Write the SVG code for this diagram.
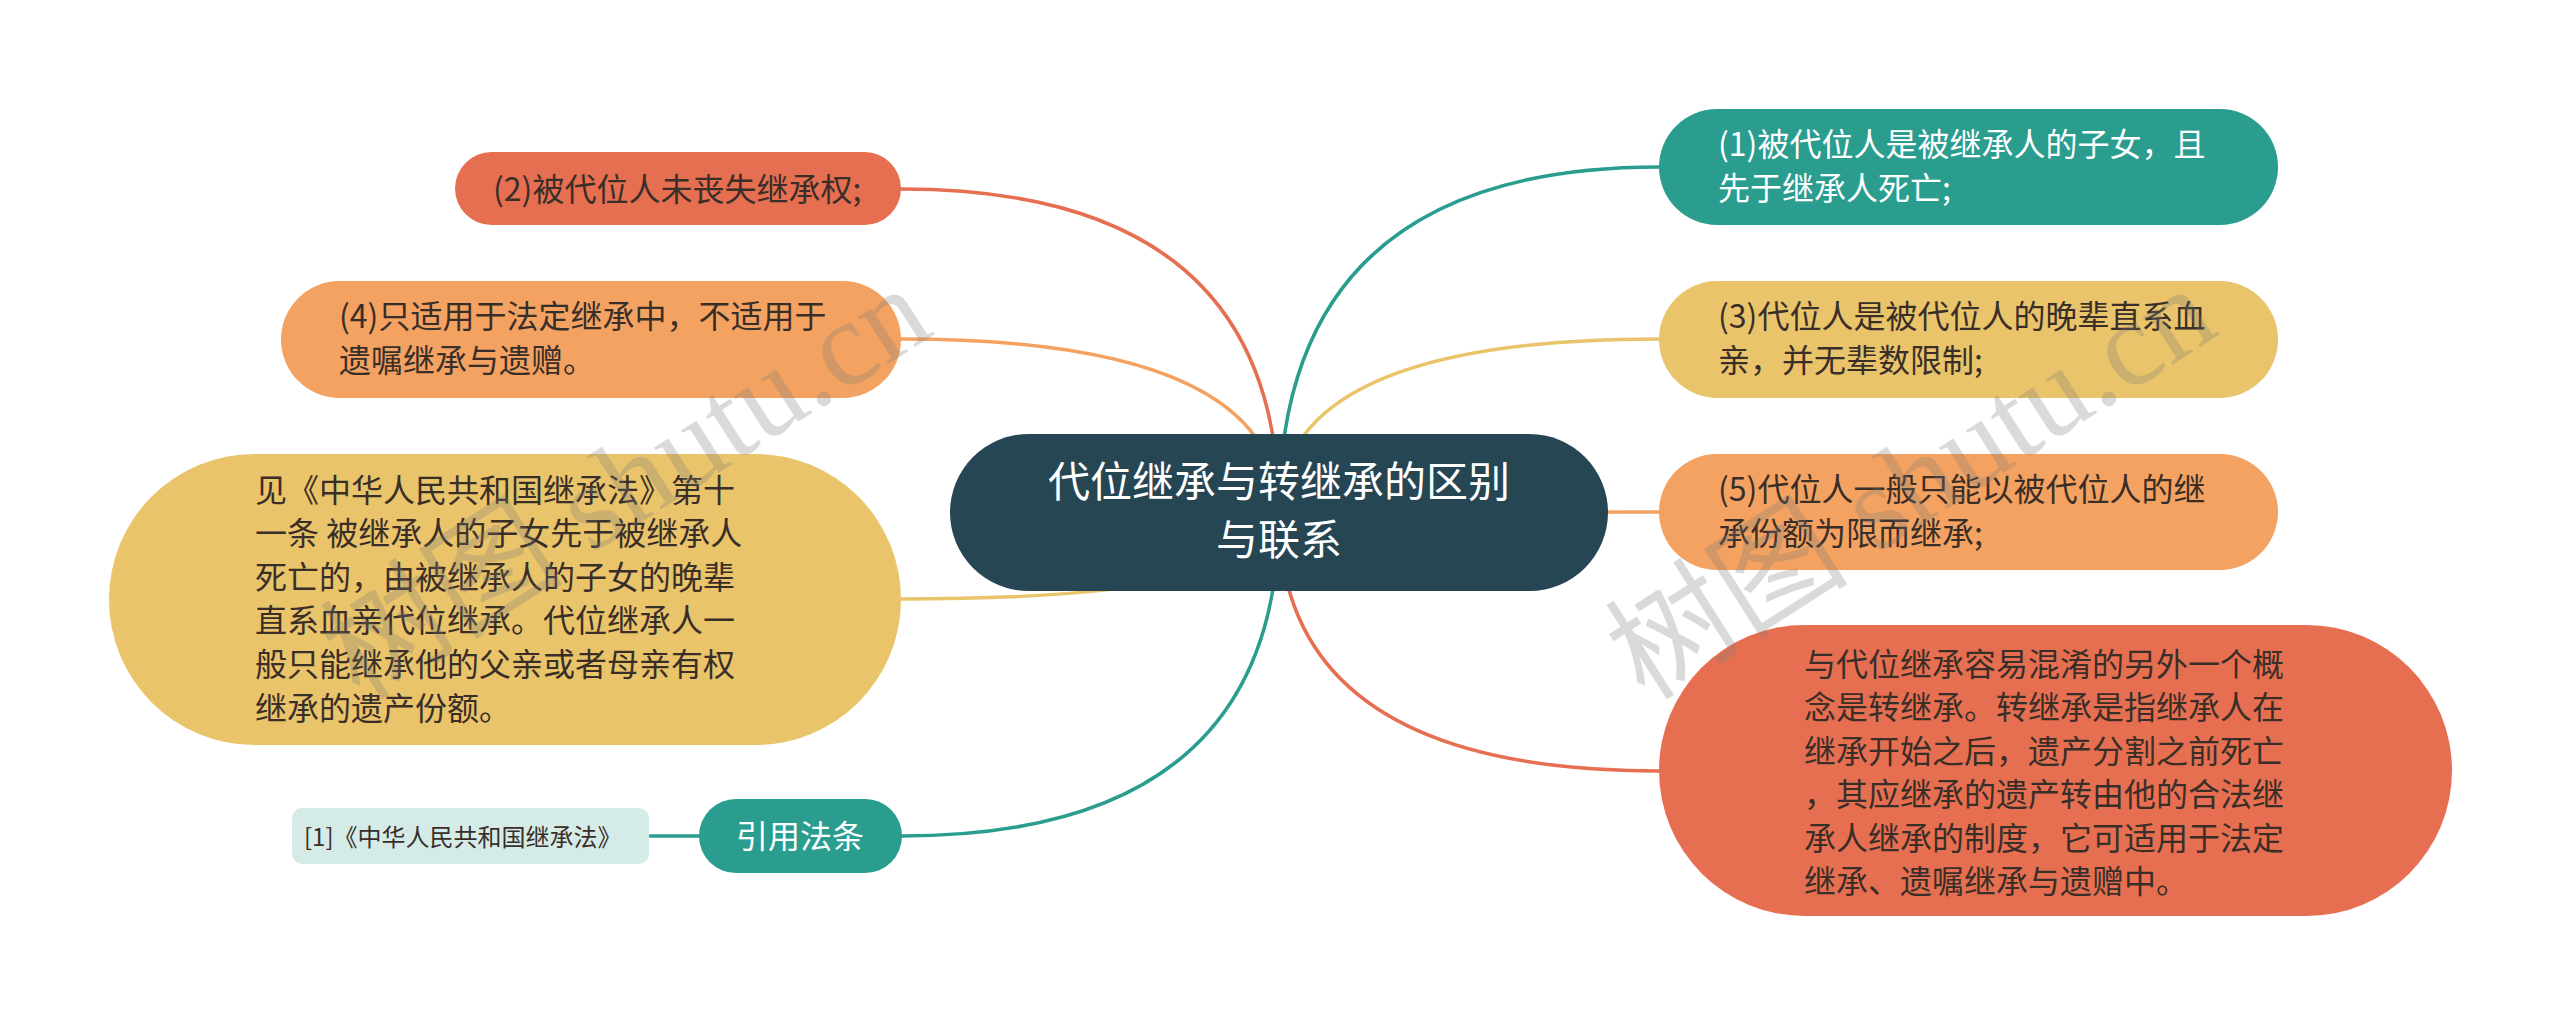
<svg xmlns="http://www.w3.org/2000/svg" width="2560" height="1025" viewBox="0 0 2560 1025">
<style>
.t{font-family:"Noto Sans CJK SC","Noto Sans",sans-serif;font-size:32px}
.d{fill:#3a2e28}
.w{fill:#ffffff}
.c{fill:none;stroke-width:3.5;stroke-linecap:round}
.wm{font-family:"Liberation Serif","Noto Sans CJK SC",serif;font-size:122px;fill:#7a7a7a;opacity:0.27}
</style>
<rect x="0" y="0" width="2560" height="1025" fill="#ffffff"/>
<g id="connectors">
<path class="c" stroke="#e76f51" d="M1279 513 Q1279 189 901 189"/>
<path class="c" stroke="#f4a261" d="M1279 513 Q1279 339 901 339"/>
<path class="c" stroke="#e9c46a" d="M1279 513 Q1279 599 901 599"/>
<path class="c" stroke="#2a9d8f" d="M1279 513 Q1279 836 901 836"/>
<path class="c" stroke="#2a9d8f" d="M699 836 L650 836"/>
<path class="c" stroke="#2a9d8f" d="M1279 513 Q1279 167 1659 167"/>
<path class="c" stroke="#e9c46a" d="M1279 513 Q1279 339 1659 339"/>
<path class="c" stroke="#f4a261" d="M1279 513 L1659 512"/>
<path class="c" stroke="#e76f51" d="M1279 513 Q1279 771 1659 771"/>
</g>
<g id="root">
<rect x="950" y="434" width="658" height="157" rx="78.5" fill="#264653"/>
<text class="t w" style="font-size:42px" text-anchor="middle"><tspan x="1279" y="497">代位继承与转继承的区别</tspan><tspan x="1279" y="555">与联系</tspan></text>
</g>
<g id="node-2">
<rect x="455" y="152" width="446" height="73" rx="36.5" fill="#e76f51"/>
<text class="t d" x="493" y="201">(2)被代位人未丧失继承权;</text>
</g>
<g id="node-4">
<rect x="281" y="281" width="620" height="117" rx="58.5" fill="#f4a261"/>
<text class="t d"><tspan x="339" y="328">(4)只适用于法定继承中，不适用于</tspan><tspan x="339" y="372">遗嘱继承与遗赠。</tspan></text>
</g>
<g id="node-law">
<rect x="109" y="454" width="792" height="291" rx="145.5" fill="#e9c46a"/>
<text class="t d"><tspan x="255" y="502">见《中华人民共和国继承法》第十</tspan><tspan x="255" y="545">一条 被继承人的子女先于被继承人</tspan><tspan x="255" y="589">死亡的，由被继承人的子女的晚辈</tspan><tspan x="255" y="632">直系血亲代位继承。代位继承人一</tspan><tspan x="255" y="676">般只能继承他的父亲或者母亲有权</tspan><tspan x="255" y="720">继承的遗产份额。</tspan></text>
</g>
<g id="node-cite">
<rect x="699" y="799" width="203" height="74" rx="37" fill="#2a9d8f"/>
<text class="t w" x="800" y="848" text-anchor="middle">引用法条</text>
</g>
<g id="node-ref">
<rect x="292" y="808" width="357" height="56" rx="10" fill="#d4ebe8"/>
<text class="t d" style="font-size:24px" x="304" y="846">[1]《中华人民共和国继承法》</text>
</g>
<g id="node-1">
<rect x="1659" y="109" width="619" height="116" rx="58" fill="#2a9d8f"/>
<text class="t w"><tspan x="1718" y="156">(1)被代位人是被继承人的子女，且</tspan><tspan x="1718" y="200">先于继承人死亡;</tspan></text>
</g>
<g id="node-3">
<rect x="1659" y="281" width="619" height="117" rx="58.5" fill="#e9c46a"/>
<text class="t d"><tspan x="1718" y="328">(3)代位人是被代位人的晚辈直系血</tspan><tspan x="1718" y="372">亲，并无辈数限制;</tspan></text>
</g>
<g id="node-5">
<rect x="1659" y="454" width="619" height="116" rx="58" fill="#f4a261"/>
<text class="t d"><tspan x="1718" y="501">(5)代位人一般只能以被代位人的继</tspan><tspan x="1718" y="545">承份额为限而继承;</tspan></text>
</g>
<g id="node-transfer">
<rect x="1659" y="625" width="793" height="291" rx="145.5" fill="#e76f51"/>
<text class="t d"><tspan x="1804" y="676">与代位继承容易混淆的另外一个概</tspan><tspan x="1804" y="719">念是转继承。转继承是指继承人在</tspan><tspan x="1804" y="763">继承开始之后，遗产分割之前死亡</tspan><tspan x="1804" y="806">，其应继承的遗产转由他的合法继</tspan><tspan x="1804" y="850">承人继承的制度，它可适用于法定</tspan><tspan x="1804" y="893">继承、遗嘱继承与遗赠中。</tspan></text>
</g>
<g id="watermarks">
<text class="wm" transform="translate(360 702) rotate(-32.6)">树图 shutu.cn</text>
<text class="wm" transform="translate(1645 702) rotate(-32.6)">树图 shutu.cn</text>
</g>
</svg>
